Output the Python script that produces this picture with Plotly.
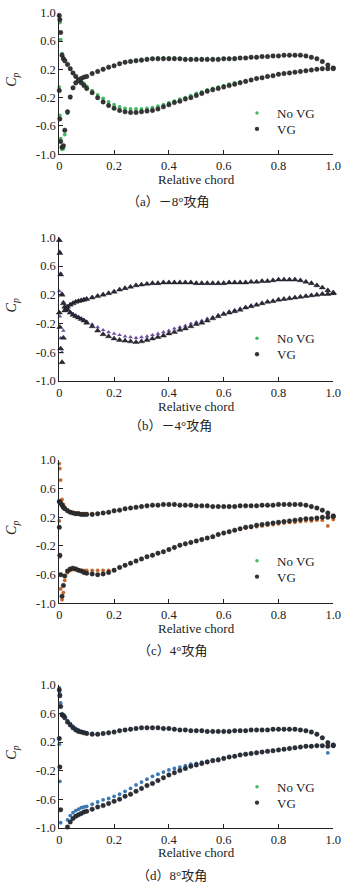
import plotly.graph_objects as go

# ---------------- data ----------------
# chordwise pressure-tap stations (relative chord)
X = [0.000, 0.002, 0.005, 0.010, 0.015, 0.020, 0.030, 0.040, 0.050, 0.060, 0.070, 0.080, 0.090,
     0.10, 0.12, 0.14, 0.16, 0.18, 0.20, 0.22, 0.24, 0.26, 0.28,
     0.30, 0.32, 0.34, 0.36, 0.38, 0.40, 0.42, 0.44, 0.46, 0.48,
     0.50, 0.52, 0.54, 0.56, 0.58, 0.60, 0.62, 0.64, 0.66, 0.68,
     0.70, 0.72, 0.74, 0.76, 0.78, 0.80, 0.82, 0.84, 0.86, 0.88,
     0.90, 0.92, 0.94, 0.96, 0.98, 1.00]

# (a) -8 deg
a_s1_novg = [0.95, 0.86, 0.62, 0.42, 0.36, 0.33, 0.27, 0.21, 0.15, 0.10, 0.06, 0.03, 0.00,
             -0.04, -0.10, -0.16, -0.21, -0.26, -0.30, -0.33, -0.35, -0.36, -0.36,
             -0.36, -0.35, -0.34, -0.32, -0.30, -0.27, -0.25, -0.22, -0.20, -0.17,
             -0.14, -0.12, -0.09, -0.07, -0.05, -0.03, -0.01, 0.01, 0.02, 0.04,
             0.05, 0.07, 0.08, 0.10, 0.11, 0.13, 0.14, 0.15, 0.16, 0.17,
             0.18, 0.19, 0.20, 0.21, 0.21, 0.22]
a_s1_vg = [0.96, 0.90, 0.72, 0.40, 0.35, 0.32, 0.27, 0.21, 0.15, 0.10, 0.05, 0.01, -0.03,
           -0.07, -0.13, -0.20, -0.26, -0.31, -0.35, -0.38, -0.40, -0.41, -0.41,
           -0.40, -0.39, -0.38, -0.36, -0.33, -0.30, -0.27, -0.25, -0.22, -0.20,
           -0.17, -0.14, -0.11, -0.09, -0.07, -0.05, -0.03, -0.01, 0.01, 0.03,
           0.05, 0.07, 0.08, 0.10, 0.11, 0.13, 0.14, 0.15, 0.16, 0.17,
           0.18, 0.19, 0.20, 0.21, 0.21, 0.22]
a_s2_novg = [-0.05, -0.45, -0.78, -0.93, -0.92, -0.72, -0.42, -0.20, -0.07, 0.00, 0.04, 0.07, 0.09,
             0.10, 0.14, 0.17, 0.20, 0.23, 0.25, 0.28, 0.30, 0.32, 0.33,
             0.34, 0.35, 0.35, 0.36, 0.36, 0.36, 0.36, 0.35, 0.35, 0.35,
             0.35, 0.35, 0.35, 0.35, 0.35, 0.35, 0.35, 0.36, 0.36, 0.36,
             0.37, 0.37, 0.38, 0.38, 0.39, 0.39, 0.40, 0.40, 0.40, 0.40,
             0.39, 0.37, 0.35, 0.31, 0.26, 0.22]
a_s2_vg = [-0.10, -0.50, -0.82, -0.90, -0.88, -0.66, -0.40, -0.19, -0.06, 0.01, 0.04, 0.07, 0.09,
           0.10, 0.14, 0.17, 0.20, 0.23, 0.25, 0.28, 0.30, 0.31, 0.32,
           0.33, 0.34, 0.35, 0.35, 0.35, 0.35, 0.35, 0.35, 0.34, 0.34,
           0.34, 0.34, 0.34, 0.34, 0.34, 0.35, 0.35, 0.35, 0.36, 0.36,
           0.37, 0.37, 0.38, 0.38, 0.39, 0.39, 0.40, 0.40, 0.40, 0.40,
           0.39, 0.37, 0.35, 0.31, 0.26, 0.21]

# (b) -4 deg
b_s1_novg = [0.95, 0.80, 0.50, 0.22, 0.10, 0.04, 0.00, -0.04, -0.07, -0.09, -0.11, -0.13, -0.15,
             -0.17, -0.21, -0.25, -0.29, -0.32, -0.34, -0.36, -0.38, -0.39, -0.40,
             -0.39, -0.38, -0.36, -0.34, -0.32, -0.30, -0.27, -0.25, -0.23, -0.20,
             -0.18, -0.16, -0.13, -0.11, -0.08, -0.06, -0.03, -0.01, 0.01, 0.03,
             0.05, 0.06, 0.08, 0.10, 0.11, 0.13, 0.14, 0.15, 0.16, 0.17,
             0.18, 0.19, 0.20, 0.21, 0.21, 0.22]
b_s1_vg = [0.96, 0.78, 0.48, 0.20, 0.08, 0.03, -0.01, -0.05, -0.08, -0.10, -0.12, -0.14, -0.16,
           -0.19, -0.24, -0.30, -0.35, -0.38, -0.41, -0.43, -0.44, -0.45, -0.46,
           -0.45, -0.43, -0.41, -0.39, -0.37, -0.34, -0.32, -0.29, -0.27, -0.24,
           -0.21, -0.19, -0.16, -0.13, -0.10, -0.07, -0.05, -0.03, -0.01, 0.02,
           0.04, 0.06, 0.08, 0.10, 0.11, 0.13, 0.14, 0.15, 0.16, 0.17,
           0.18, 0.19, 0.20, 0.21, 0.21, 0.22]
b_s2_novg = [0.25, -0.10, -0.40, -0.60, -0.30, 0.00, 0.04, 0.07, 0.09, 0.11, 0.12, 0.13, 0.14,
             0.15, 0.17, 0.19, 0.21, 0.23, 0.25, 0.27, 0.29, 0.31, 0.33,
             0.34, 0.35, 0.36, 0.36, 0.37, 0.37, 0.37, 0.37, 0.37, 0.37,
             0.36, 0.36, 0.36, 0.36, 0.36, 0.36, 0.37, 0.37, 0.37, 0.37,
             0.38, 0.38, 0.39, 0.39, 0.40, 0.41, 0.41, 0.41, 0.41, 0.40,
             0.38, 0.36, 0.33, 0.30, 0.26, 0.23]
b_s2_vg = [-0.05, -0.25, -0.55, -0.74, -0.40, -0.02, 0.03, 0.06, 0.08, 0.10, 0.11, 0.12, 0.13,
           0.14, 0.16, 0.18, 0.20, 0.22, 0.24, 0.27, 0.29, 0.31, 0.33,
           0.34, 0.35, 0.36, 0.36, 0.37, 0.37, 0.37, 0.37, 0.37, 0.37,
           0.36, 0.36, 0.36, 0.36, 0.36, 0.36, 0.37, 0.37, 0.37, 0.37,
           0.38, 0.38, 0.39, 0.39, 0.40, 0.41, 0.41, 0.41, 0.41, 0.40,
           0.38, 0.36, 0.33, 0.30, 0.26, 0.23]

# (c) 4 deg
c_top_novg = [0.95, 0.88, 0.72, 0.45, 0.38, 0.34, 0.30, 0.28, 0.27, 0.26, 0.26, 0.25, 0.25,
              0.25, 0.25, 0.25, 0.26, 0.27, 0.29, 0.30, 0.32, 0.33, 0.34,
              0.35, 0.36, 0.37, 0.37, 0.38, 0.38, 0.38, 0.37, 0.37, 0.37,
              0.36, 0.36, 0.36, 0.35, 0.35, 0.35, 0.35, 0.35, 0.36, 0.36,
              0.36, 0.36, 0.37, 0.37, 0.37, 0.38, 0.38, 0.38, 0.38, 0.38,
              0.37, 0.35, 0.33, 0.30, 0.25, 0.20]
c_top_vg = [0.42, 0.41, 0.40, 0.37, 0.34, 0.32, 0.29, 0.27, 0.26, 0.25, 0.25, 0.24, 0.24,
            0.24, 0.24, 0.25, 0.26, 0.27, 0.29, 0.30, 0.32, 0.33, 0.34,
            0.35, 0.36, 0.37, 0.37, 0.38, 0.38, 0.38, 0.37, 0.37, 0.37,
            0.36, 0.36, 0.36, 0.35, 0.35, 0.35, 0.35, 0.35, 0.36, 0.36,
            0.36, 0.36, 0.37, 0.37, 0.37, 0.38, 0.38, 0.38, 0.38, 0.38,
            0.37, 0.35, 0.33, 0.30, 0.26, 0.22]
c_bot_novg = [0.15, -0.35, -0.80, -0.95, -0.85, -0.68, -0.57, -0.54, -0.53, -0.53, -0.53, -0.54, -0.54,
              -0.54, -0.54, -0.54, -0.54, -0.54, -0.53, -0.50, -0.47, -0.44, -0.41,
              -0.38, -0.35, -0.33, -0.30, -0.28, -0.25, -0.22, -0.19, -0.17, -0.15,
              -0.13, -0.11, -0.09, -0.07, -0.04, -0.02, 0.00, 0.02, 0.04, 0.05,
              0.06, 0.07, 0.08, 0.09, 0.10, 0.11, 0.12, 0.13, 0.13, 0.14,
              0.15, 0.15, 0.16, 0.16, 0.08, 0.17]
c_bot_vg = [0.06, -0.33, -0.60, -0.90, -0.75, -0.62, -0.55, -0.52, -0.51, -0.52, -0.54, -0.55, -0.57,
            -0.58, -0.59, -0.60, -0.59, -0.57, -0.54, -0.50, -0.47, -0.44, -0.41,
            -0.38, -0.35, -0.33, -0.30, -0.28, -0.25, -0.22, -0.19, -0.17, -0.15,
            -0.13, -0.11, -0.09, -0.07, -0.04, -0.02, 0.00, 0.02, 0.04, 0.06,
            0.07, 0.09, 0.10, 0.11, 0.12, 0.13, 0.14, 0.15, 0.16, 0.17,
            0.18, 0.18, 0.19, 0.20, 0.20, 0.21]

# (d) 8 deg  (None = below the plotted range, not visible)
d_top_novg = [0.96, 0.88, 0.75, 0.60, 0.58, 0.56, 0.50, 0.46, 0.42, 0.39, 0.37, 0.35, 0.34,
              0.33, 0.32, 0.31, 0.32, 0.33, 0.34, 0.36, 0.37, 0.38, 0.39,
              0.40, 0.40, 0.40, 0.40, 0.39, 0.39, 0.38, 0.37, 0.37, 0.36,
              0.36, 0.36, 0.35, 0.35, 0.35, 0.35, 0.35, 0.36, 0.36, 0.36,
              0.37, 0.37, 0.37, 0.37, 0.38, 0.38, 0.38, 0.38, 0.38, 0.37,
              0.36, 0.34, 0.31, 0.26, 0.20, 0.15]
d_top_vg = [0.93, 0.85, 0.70, 0.58, 0.57, 0.54, 0.48, 0.44, 0.40, 0.37, 0.35, 0.34, 0.33,
            0.32, 0.31, 0.31, 0.32, 0.33, 0.34, 0.36, 0.37, 0.38, 0.39,
            0.40, 0.40, 0.40, 0.40, 0.39, 0.39, 0.38, 0.37, 0.37, 0.36,
            0.36, 0.36, 0.35, 0.35, 0.35, 0.35, 0.35, 0.36, 0.36, 0.36,
            0.37, 0.37, 0.37, 0.37, 0.38, 0.38, 0.38, 0.38, 0.38, 0.37,
            0.36, 0.34, 0.31, 0.26, 0.19, 0.15]
d_bot_novg = [0.17, -0.35, -0.93, None, None, None, -0.89, -0.83, -0.79, -0.76, -0.74, -0.72, -0.71,
              -0.70, -0.67, -0.64, -0.61, -0.59, -0.56, -0.53, -0.49, -0.45, -0.40,
              -0.36, -0.32, -0.28, -0.25, -0.22, -0.19, -0.17, -0.15, -0.13, -0.11,
              -0.10, -0.08, -0.07, -0.05, -0.04, -0.02, -0.01, 0.00, 0.02, 0.03,
              0.04, 0.05, 0.06, 0.07, 0.08, 0.09, 0.10, 0.11, 0.12, 0.13,
              0.14, 0.14, 0.15, 0.15, 0.05, 0.16]
d_bot_vg = [0.25, -0.15, -0.75, None, None, None, -0.99, -0.92, -0.87, -0.84, -0.82, -0.80, -0.78,
            -0.77, -0.74, -0.71, -0.69, -0.66, -0.63, -0.60, -0.56, -0.53, -0.49,
            -0.45, -0.41, -0.38, -0.34, -0.30, -0.26, -0.23, -0.20, -0.17, -0.14,
            -0.12, -0.10, -0.08, -0.06, -0.05, -0.03, -0.01, 0.00, 0.02, 0.03,
            0.04, 0.05, 0.06, 0.07, 0.08, 0.09, 0.10, 0.11, 0.12, 0.13,
            0.14, 0.14, 0.15, 0.15, 0.14, 0.16]

SERIES_NAMES = ["No VG", "VG"]
CAPTIONS = ["（a）－8°攻角", "（b）－4°攻角", "（c）4°攻角", "（d）8°攻角"]
X_TICKS = [0, 0.2, 0.4, 0.6, 0.8, 1.0]
X_TICK_TEXT = ["0", "0.2", "0.4", "0.6", "0.8", "1.0"]
Y_TICKS = [-1.0, -0.6, -0.2, 0.2, 0.6, 1.0]
Y_TICK_TEXT = ["-1.0", "-0.6", "-0.2", "0.2", "0.6", "1.0"]

for arr in [a_s1_novg, a_s1_vg, a_s2_novg, a_s2_vg, b_s1_novg, b_s1_vg, b_s2_novg, b_s2_vg,
            c_top_novg, c_top_vg, c_bot_novg, c_bot_vg, d_top_novg, d_top_vg, d_bot_novg, d_bot_vg]:
    assert len(arr) == len(X), len(arr)

# ---------------- styling / layout ----------------
W, H = 357, 884
X0, X1 = 59.3, 333.3
GREEN = "#45b864"
DARK = "#353535"

panels = [
    dict(top=12.7, bot=154.3, novg=(a_s1_novg, a_s2_novg), vg=(a_s1_vg, a_s2_vg),
         c_novg=GREEN, c_vg=DARK, sym="circle", s_novg=3.8, s_vg=4.5,
         chord_y=180.0, cap_y=201.7, cap_x=168, leg_y=113),
    dict(top=237.3, bot=381.0, novg=(b_s1_novg, b_s2_novg), vg=(b_s1_vg, b_s2_vg),
         c_novg="#6b50a3", c_vg="#2c2838", sym="triangle-up", s_novg=4.2, s_vg=5.4,
         chord_y=406.5, cap_y=425.0, cap_x=170, leg_y=338.3),
    dict(top=460.0, bot=603.3, novg=(c_top_novg, c_bot_novg), vg=(c_top_vg, c_bot_vg),
         c_novg="#c4692f", c_vg="#2f2f2f", sym="circle", s_novg=3.8, s_vg=4.5,
         chord_y=628.5, cap_y=650.5, cap_x=172, leg_y=560.7),
    dict(top=685.0, bot=827.7, novg=(d_top_novg, d_bot_novg), vg=(d_top_vg, d_bot_vg),
         c_novg="#3b78b4", c_vg="#2b2f3a", sym="circle", s_novg=3.8, s_vg=4.5,
         chord_y=852.0, cap_y=875.7, cap_x=172, leg_y=786.7),
]

FONT = "Liberation Serif"
fig = go.Figure()
annotations = []
layout = {}
leg_n = 0

for i, p in enumerate(panels, start=1):
    xa = "x" if i == 1 else f"x{i}"
    ya = "y" if i == 1 else f"y{i}"
    xs = X + X
    fig.add_trace(go.Scatter(
        x=xs, y=list(p["novg"][0]) + list(p["novg"][1]), mode="markers", xaxis=xa, yaxis=ya,
        marker=dict(symbol=p["sym"], size=p["s_novg"], color=p["c_novg"], line=dict(width=0)),
        cliponaxis=False, showlegend=False, name=SERIES_NAMES[0]))
    fig.add_trace(go.Scatter(
        x=xs, y=list(p["vg"][0]) + list(p["vg"][1]), mode="markers", xaxis=xa, yaxis=ya,
        marker=dict(symbol=p["sym"], size=p["s_vg"], color=p["c_vg"],
                    line=dict(width=0.4, color="#151515")),
        cliponaxis=False, showlegend=False, name=SERIES_NAMES[1]))

    # legend entries (as printed in the source figure), one single-item legend per row
    for k, (nm, col, sz) in enumerate([(SERIES_NAMES[0], GREEN, 3.5), (SERIES_NAMES[1], DARK, 4.3)]):
        leg_n += 1
        leg = "legend" if leg_n == 1 else f"legend{leg_n}"
        fig.add_trace(go.Scatter(x=[None], y=[None], mode="markers", xaxis=xa, yaxis=ya,
                                 marker=dict(size=sz, color=col), name=nm, legend=leg))
        row_y = p["leg_y"] + 16 * k
        layout[leg] = dict(x=237 / W, y=1 - row_y / H, xanchor="left", yanchor="middle",
                           bgcolor="rgba(0,0,0,0)", font=dict(family=FONT, size=13, color="#222"),
                           itemwidth=30, tracegroupgap=0, borderwidth=0)

    axis_common = dict(showline=True, linecolor="#222", linewidth=1, showgrid=False,
                       zeroline=False, ticks="inside", ticklen=4, tickwidth=1, tickcolor="#222",
                       tickfont=dict(family=FONT, size=12.5, color="#222"), fixedrange=True,
                       automargin=False)
    layout["xaxis" if i == 1 else f"xaxis{i}"] = dict(
        domain=[X0 / W, X1 / W], range=[0, 1], anchor=ya,
        tickmode="array", tickvals=X_TICKS, ticktext=X_TICK_TEXT, **axis_common)
    layout["yaxis" if i == 1 else f"yaxis{i}"] = dict(
        domain=[1 - p["bot"] / H, 1 - p["top"] / H], range=[-1, 1], anchor=xa,
        tickmode="array", tickvals=Y_TICKS, ticktext=Y_TICK_TEXT, **axis_common)

    mid = (p["top"] + p["bot"]) / 2
    annotations.append(dict(x=12.3 / W, y=1 - (mid - 4) / H, xref="paper", yref="paper",
                            text="<i>C<sub>p</sub></i>", showarrow=False, textangle=-90,
                            font=dict(family=FONT, size=14, color="#222"),
                            xanchor="center", yanchor="middle"))
    annotations.append(dict(x=(X0 + X1) / 2 / W, y=1 - p["chord_y"] / H, xref="paper", yref="paper",
                            text="Relative chord", showarrow=False,
                            font=dict(family=FONT, size=13, color="#222"),
                            xanchor="center", yanchor="middle"))
    annotations.append(dict(x=p["cap_x"] / W, y=1 - p["cap_y"] / H, xref="paper", yref="paper",
                            text=CAPTIONS[i - 1], showarrow=False,
                            font=dict(family=FONT + ", Noto Sans CJK SC", size=13, color="#222"),
                            xanchor="center", yanchor="middle"))

fig.update_layout(width=W, height=H, margin=dict(l=0, r=0, t=0, b=0, autoexpand=False),
                  paper_bgcolor="white", plot_bgcolor="white",
                  font=dict(family=FONT, size=13, color="#222"),
                  annotations=annotations, **layout)
fig.write_html("out.html", config={"displayModeBar": False},
               post_script="document.body.style.margin='0px';document.body.style.overflow='hidden';")
